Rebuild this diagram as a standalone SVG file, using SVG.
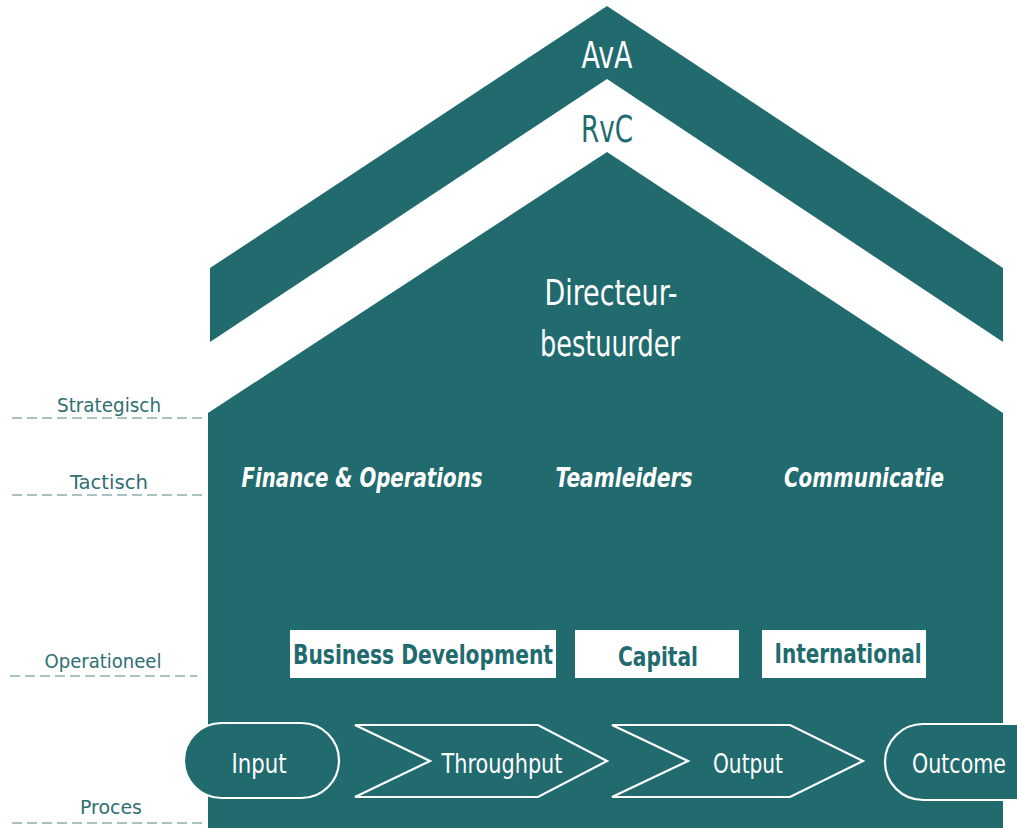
<svg xmlns="http://www.w3.org/2000/svg" width="1017" height="828" viewBox="0 0 1017 828">
<style>
.teal{fill:#216b6f}
.cond{font-family:"DejaVu Sans Condensed","Liberation Sans Narrow","Liberation Sans",sans-serif;font-stretch:condensed}
.big{font-size:38px;fill:#ffffff}
.lvl{font-size:20px;fill:#2f6f73}
.tac{font-size:26px;font-weight:bold;font-style:italic;fill:#ffffff}
.box{fill:#ffffff}
.boxt{font-size:26px;font-weight:bold;fill:#216b6f}
.proc{fill:#216b6f;stroke:#ffffff;stroke-width:2.2}
.proct{font-size:27px;fill:#ffffff}
.dash{stroke:#a9c2c3;stroke-width:2;stroke-dasharray:10 5;fill:none}
</style>
<rect width="1017" height="828" fill="#ffffff"/>
<g id="roof-ava">
<polygon class="teal" points="607,6 1003,268 1003,342 607,79 210,342 210,268"/>
<text class="cond big" x="607" y="68" text-anchor="middle" textLength="51" lengthAdjust="spacingAndGlyphs">AvA</text>
</g>
<g id="rvc">
<text class="cond big" x="607" y="142" text-anchor="middle" style="fill:#216b6f" textLength="52" lengthAdjust="spacingAndGlyphs">RvC</text>
</g>
<g id="body">
<polygon class="teal" points="208,413 607,152 1003,413 1003,828 208,828"/>
<text class="cond big" x="611" y="305" text-anchor="middle" style="font-size:36px" textLength="133" lengthAdjust="spacingAndGlyphs">Directeur-</text>
<text class="cond big" x="610" y="356" text-anchor="middle" style="font-size:36px" textLength="140" lengthAdjust="spacingAndGlyphs">bestuurder</text>
</g>
<g id="levels">
<text class="cond lvl" x="109" y="412" text-anchor="middle" textLength="104" lengthAdjust="spacingAndGlyphs">Strategisch</text>
<line class="dash" x1="12" y1="418" x2="205" y2="418"/>
<text class="cond lvl" x="109" y="489" text-anchor="middle" textLength="78" lengthAdjust="spacingAndGlyphs">Tactisch</text>
<line class="dash" x1="12" y1="495" x2="205" y2="495"/>
<text class="cond lvl" x="103" y="668" text-anchor="middle" textLength="117" lengthAdjust="spacingAndGlyphs">Operationeel</text>
<line class="dash" x1="10" y1="676" x2="197" y2="676"/>
<text class="cond lvl" x="111" y="814" text-anchor="middle" textLength="62" lengthAdjust="spacingAndGlyphs">Proces</text>
<line class="dash" x1="12" y1="823" x2="205" y2="823"/>
</g>
<g id="tactisch">
<text class="cond tac" x="362" y="487" text-anchor="middle" textLength="241" lengthAdjust="spacingAndGlyphs">Finance &amp; Operations</text>
<text class="cond tac" x="624" y="487" text-anchor="middle" textLength="137" lengthAdjust="spacingAndGlyphs">Teamleiders</text>
<text class="cond tac" x="864" y="487" text-anchor="middle" textLength="160" lengthAdjust="spacingAndGlyphs">Communicatie</text>
</g>
<g id="business-development">
<rect class="box" x="290" y="630" width="266" height="48"/>
<text class="cond boxt" x="423" y="664" text-anchor="middle" textLength="260" lengthAdjust="spacingAndGlyphs">Business Development</text>
</g>
<g id="capital">
<rect class="box" x="575" y="630" width="164" height="48"/>
<text class="cond boxt" x="658" y="666" text-anchor="middle" textLength="80" lengthAdjust="spacingAndGlyphs">Capital</text>
</g>
<g id="international">
<rect class="box" x="762" y="630" width="164" height="48"/>
<text class="cond boxt" x="848" y="663" text-anchor="middle" textLength="147" lengthAdjust="spacingAndGlyphs">International</text>
</g>
<g id="input">
<rect class="proc" x="184" y="723" width="155" height="75" rx="37.5"/>
<text class="cond proct" x="259" y="773" text-anchor="middle" textLength="55" lengthAdjust="spacingAndGlyphs">Input</text>
</g>
<g id="throughput">
<polygon class="proc" points="355,725 538,725 607,761 538,797 355,797 430,761"/>
<text class="cond proct" x="502" y="773" text-anchor="middle" textLength="121" lengthAdjust="spacingAndGlyphs">Throughput</text>
</g>
<g id="output">
<polygon class="proc" points="612,725 790,725 863,761 790,797 612,797 688,761"/>
<text class="cond proct" x="748" y="773" text-anchor="middle" textLength="70" lengthAdjust="spacingAndGlyphs">Output</text>
</g>
<g id="outcome">
<path class="proc" d="M1017,724 H923 A38,38 0 0 0 923,800 H1017"/>
<text class="cond proct" x="959" y="773" text-anchor="middle" textLength="94" lengthAdjust="spacingAndGlyphs">Outcome</text>
</g>
<g id="connectors"></g>
</svg>
